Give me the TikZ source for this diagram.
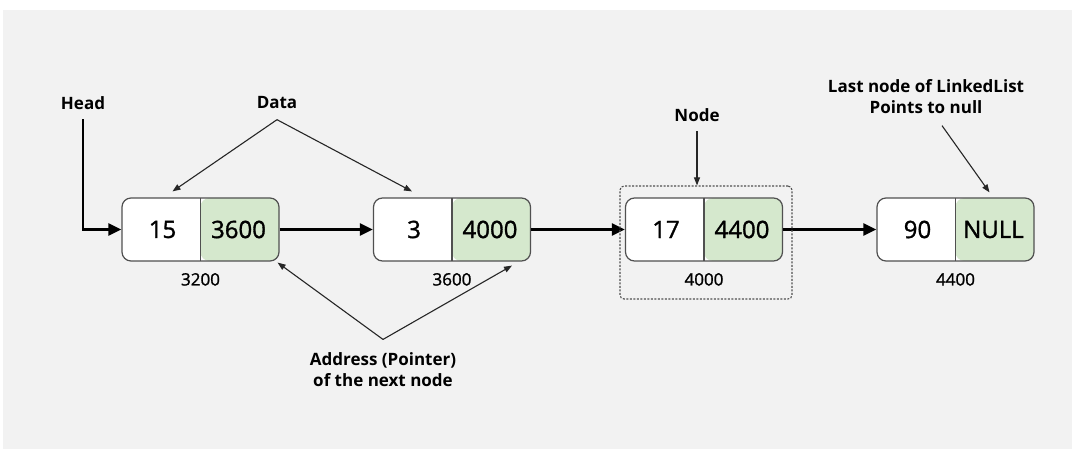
\documentclass[tikz,border=0pt]{standalone}
\usepackage{fontspec}
\setmainfont{Open Sans}
\newfontfamily\numfont{Open Sans}[FakeBold=1.3]
\usetikzlibrary{arrows.meta,positioning}
\definecolor{ptrgreen}{RGB}{213,232,205}
\definecolor{boxgray}{RGB}{80,80,80}
\definecolor{bggray}{RGB}{242,242,242}

\begin{document}
\begin{tikzpicture}[x=1pt,y=-1pt,>={Triangle[length=13pt,width=12pt]}]
    \tikzstyle{list node}=[rectangle,draw=boxgray,line width=1.2pt,fill=white,
        rounded corners=9pt,minimum width=157pt,minimum height=63pt,inner sep=0pt,
        path picture={\fill[ptrgreen] (path picture bounding box.north) rectangle (path picture bounding box.south east);
            \draw[boxgray,line width=1.2pt] (path picture bounding box.north) -- (path picture bounding box.south);}]
    \tikzstyle{data}=[font=\numfont\fontsize{24}{28}\selectfont]
    \tikzstyle{addr}=[font=\numfont\fontsize{17}{20}\selectfont]
    \tikzstyle{annot}=[font=\bfseries\fontsize{17}{21}\selectfont, align=center]
    \tikzstyle{frame}=[draw=boxgray,line width=1.1pt,dash pattern=on 2pt off 1.5pt,
        rounded corners=4pt,minimum width=172pt,minimum height=113pt]
    \tikzstyle{link}=[->,line width=2.5pt,draw=black]
    \tikzstyle{pointer}=[-{Triangle[length=8pt,width=6pt]},line width=1.1pt,draw=black!85]

    % Background
    \useasboundingbox (0,0) rectangle (1072,449);
    \fill[bggray] (3,10) rectangle (1072,449);

    % Draw the list nodes with their data, pointer and address
    \foreach \i/\x/\d/\p/\a in {1/200.5/15/3600/3200,2/452/3/4000/3600,3/704/17/4400/4000,4/955.5/90/NULL/4400}{
        \node[list node] (L-\i) at (\x,229.5) {};
        \node[data] (D-\i) at ([xshift=-38pt]L-\i.center) {\d};
        \node[data] (P-\i) at ([xshift=38pt]L-\i.center) {\p};
        \node[addr,below=8pt of L-\i] (A-\i) {\a};
    }

    % Connect every node to the next one
    \foreach \s/\t in {1/2,2/3,3/4}
        \draw[link] (L-\s) -- (L-\t);

    % Frame round one node
    \node[frame] (F) at (706,242.5) {};

    % Annotate the list
    \node[annot] (Head) at (83,103) {Head};
    \node[annot] (Data) at (277,103) {Data};
    \node[annot] (Node) at (697,115) {Node};
    \node[annot] (Last) at (926,97) {Last node of LinkedList\\Points to null};
    \node[annot] (Addr) at (383,370) {Address (Pointer)\\of the next node};

    \draw[link,shorten <=6pt] (Head.south) |- (L-1.west);
    \draw[pointer] ([yshift=-7pt]Data.south) -- ([xshift=-28pt,yshift=6pt]L-1.north);
    \draw[pointer] ([yshift=-7pt]Data.south) -- ([xshift=-40pt,yshift=6pt]L-2.north);
    \draw[pointer] ([yshift=-6pt]Node.south) -- (Node.south |- F.north);
    \draw[pointer] ([xshift=16pt,yshift=-8pt]Last.south) -- ([xshift=34pt,yshift=5pt]L-4.north);
    \draw[pointer] ([yshift=10pt]Addr.north) -- ([xshift=-2pt,yshift=-1pt]L-1.south east);
    \draw[pointer] ([yshift=10pt]Addr.north) -- ([xshift=60pt,yshift=-4pt]L-2.south);
\end{tikzpicture}
\end{document}
